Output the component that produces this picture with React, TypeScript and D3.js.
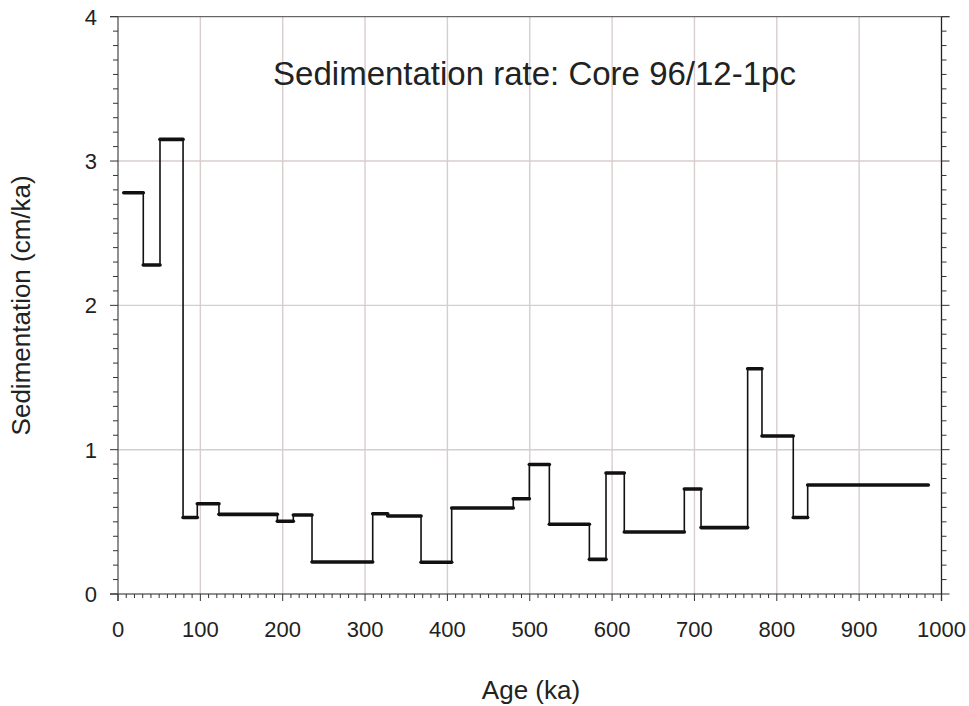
import React from "react";
import * as d3 from "d3";

const edges = [7, 30.7, 51, 79, 96.3, 122.6, 193.5, 212.9, 235.6, 309.3, 327.5, 368, 405.2, 480, 499.5, 523.8, 572.4, 592.6, 614.8, 687.7, 708, 764.6, 782, 820, 837.5, 984];
const rates = [2.78, 2.28, 3.15, 0.53, 0.625, 0.552, 0.504, 0.547, 0.222, 0.556, 0.54, 0.22, 0.596, 0.66, 0.897, 0.483, 0.24, 0.838, 0.43, 0.728, 0.46, 1.561, 1.095, 0.53, 0.755];
const xTicks = [0, 100, 200, 300, 400, 500, 600, 700, 800, 900, 1000];
const yTicks = [0, 1, 2, 3, 4];
const title = "Sedimentation rate: Core 96/12-1pc";

const W = 969, H = 706;
const L = 118, R = 941.5, T = 16.7, B = 594;
const FONT = "'Liberation Sans', Arial, sans-serif";
const GRID = "#d8cdcd";

export default function App() {
  const x = d3.scaleLinear().domain([0, 1000]).range([L, R]);
  const y = d3.scaleLinear().domain([0, 4]).range([B, T]);

  const pts: [number, number][] = rates.map((v, i) => [edges[i], v]);
  pts.push([edges[edges.length - 1], rates[rates.length - 1]]);
  const line = d3.line<[number, number]>().x(d => x(d[0])).y(d => y(d[1])).curve(d3.curveStepAfter);

  const xMinor = d3.range(0, 1001, 10);
  const yMinor = d3.range(0, 4.001, 0.1);

  return (
    <svg width={W} height={H} style={{ position: "absolute", left: 0, top: 0, background: "#fff" }}>
      {xTicks.slice(1, -1).map(t => (
        <line key={"gx" + t} x1={x(t)} x2={x(t)} y1={T} y2={B} stroke={GRID} strokeWidth={1.4} />
      ))}
      {yTicks.slice(1, -1).map(t => (
        <line key={"gy" + t} x1={L} x2={R} y1={y(t)} y2={y(t)} stroke={GRID} strokeWidth={1.4} />
      ))}
      <line x1={L - 8} x2={R + 8} y1={T} y2={T} stroke="#444" strokeWidth={1} />
      <line x1={L - 8} x2={R} y1={B} y2={B} stroke="#222" strokeWidth={1.2} />
      <line x1={L} x2={L} y1={T} y2={B + 7} stroke="#555" strokeWidth={1.3} />
      <line x1={R} x2={R} y1={T} y2={B + 7} stroke="#222" strokeWidth={1.3} />
      {yMinor.map((t, i) => {
        const major = i % 10 === 0;
        return (
          <g key={"yt" + i}>
            <line x1={L - (major ? 8 : 5)} x2={L} y1={y(t)} y2={y(t)} stroke="#333" strokeWidth={1} />
            <line x1={R} x2={R + (major ? 8 : 5)} y1={y(t)} y2={y(t)} stroke="#333" strokeWidth={1} />
          </g>
        );
      })}
      {xMinor.map((t, i) => {
        const major = i % 10 === 0;
        return <line key={"xt" + i} x1={x(t)} x2={x(t)} y1={B} y2={B + (major ? 7 : 4)} stroke="#333" strokeWidth={1} />;
      })}
      {xTicks.map(t => (
        <text key={"xl" + t} x={x(t)} y={637} textAnchor="middle" fontFamily={FONT} fontSize={22} fill="#222">{t}</text>
      ))}
      {yTicks.map(t => (
        <text key={"yl" + t} x={97} y={y(t) + 8} textAnchor="end" fontFamily={FONT} fontSize={22} fill="#222">{t}</text>
      ))}
      <text x={531} y={699} textAnchor="middle" fontFamily={FONT} fontSize={26} fill="#222">Age (ka)</text>
      <text transform={`translate(30, ${(T + B) / 2}) rotate(-90)`} textAnchor="middle" fontFamily={FONT} fontSize={26} fill="#222">Sedimentation (cm/ka)</text>
      <text x={534.5} y={85} textAnchor="middle" fontFamily={FONT} fontSize={33} fill="#222">{title}</text>
      <path d={line(pts) || ""} fill="none" stroke="#111" strokeWidth={1.6} />
      {rates.map((v, i) => (
        <line key={"seg" + i} x1={x(edges[i])} x2={x(edges[i + 1])} y1={y(v)} y2={y(v)} stroke="#111" strokeWidth={3.6} strokeLinecap="round" />
      ))}
    </svg>
  );
}
